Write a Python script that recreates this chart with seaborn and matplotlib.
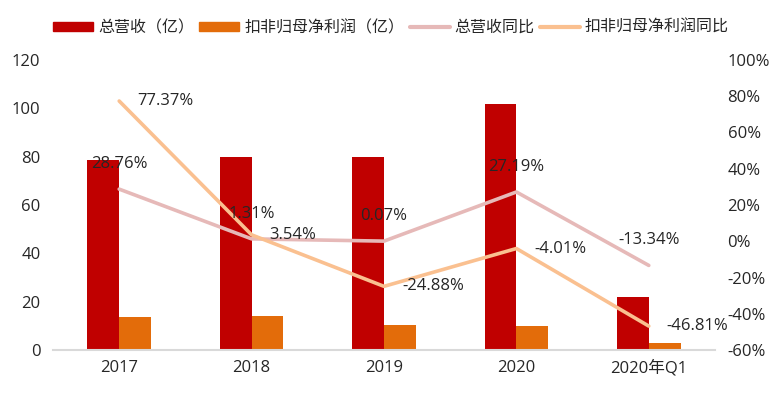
import matplotlib
matplotlib.use("Agg")
import matplotlib.pyplot as plt
import seaborn as sns
import pandas as pd
import numpy as np
from matplotlib.patches import Patch
from matplotlib.lines import Line2D

categories = ["2017", "2018", "2019", "2020", "2020年Q1"]
revenue = [78.7, 80.0, 80.0, 101.8, 21.9]
profit = [13.7, 14.1, 10.3, 9.9, 2.9]
revenue_yoy = [28.76, 1.31, 0.07, 27.19, -13.34]
profit_yoy = [77.37, 3.54, -24.88, -4.01, -46.81]
left_ticks = [0, 20, 40, 60, 80, 100, 120]
right_ticks = [-60, -40, -20, 0, 20, 40, 60, 80, 100]

sns.set_theme(style="white")
plt.rcParams['font.family'] = ['Open Sans', 'Noto Sans CJK SC', 'DejaVu Sans']

C_REV = "#C00000"
C_PROF = "#E36C0A"
C_REVY = "#E6B9B8"
C_PROFY = "#FAC090"
TXT = "#262626"

fig = plt.figure(figsize=(7.83, 3.96), dpi=100)
ax = fig.add_axes([53/783, 1-350/396, 662/783, 290/396])

df = pd.DataFrame({
    "cat": categories * 2,
    "val": revenue + profit,
    "series": ["总营收（亿）"] * 5 + ["扣非归母净利润（亿）"] * 5,
})
sns.barplot(data=df, x="cat", y="val", hue="series", order=categories,
            palette=[C_REV, C_PROF], width=0.48, ax=ax, legend=False,
            saturation=1, edgecolor="none")
ax.set_xlim(-0.5, 4.5)
ax.set_ylim(0, 120)
ax.set_yticks(left_ticks)
ax.set_xlabel("")
ax.set_ylabel("")
for s in ["top", "right", "left"]:
    ax.spines[s].set_visible(False)
ax.spines["bottom"].set_color("#D9D9D9")
ax.spines["bottom"].set_linewidth(1.5)
ax.tick_params(axis="both", length=0, labelsize=12, colors=TXT)
ax.tick_params(axis="y", pad=9)
ax.tick_params(axis="x", pad=7)

ax2 = ax.twinx()
xs = np.arange(len(categories))
ldf = pd.DataFrame({"x": list(xs) * 2, "v": revenue_yoy + profit_yoy,
                    "s": ["总营收同比"] * 5 + ["扣非归母净利润同比"] * 5})
sns.lineplot(data=ldf, x="x", y="v", hue="s", palette=[C_REVY, C_PROFY],
             linewidth=2.6, ax=ax2, legend=False, sort=False)
ax2.set_ylim(-60, 100)
ax2.set_xlim(-0.5, 4.5)
ax2.set_yticks(right_ticks)
ax2.set_yticklabels([f"{t}%" for t in right_ticks])
ax2.set_ylabel("")
ax2.set_xlabel("")
for s in ["top", "right", "left", "bottom"]:
    ax2.spines[s].set_visible(False)
ax2.tick_params(axis="y", length=0, labelsize=12, colors=TXT, pad=9)

for x, v in zip(xs, revenue_yoy):
    ax2.annotate(f"{v:.2f}%", (x, v), xytext=(0, 18), textcoords="offset points",
                 ha="center", va="center", fontsize=12, color=TXT)
for x, v in zip(xs, profit_yoy):
    ax2.annotate(f"{v:.2f}%", (x, v), xytext=(13, 0), textcoords="offset points",
                 ha="left", va="center", fontsize=12, color=TXT)

handles = [Patch(color=C_REV, label="总营收（亿）"),
           Patch(color=C_PROF, label="扣非归母净利润（亿）"),
           Line2D([], [], color=C_REVY, lw=3, label="总营收同比"),
           Line2D([], [], color=C_PROFY, lw=3, label="扣非归母净利润同比")]
fig.legend(handles=handles, loc="center", bbox_to_anchor=(391/783, 1-28/396), ncol=4,
           frameon=False, fontsize=11.5, handlelength=2.5, handleheight=0.55,
           handletextpad=0.3, columnspacing=0.35, labelcolor=TXT)

fig.savefig("out.png", dpi=100)
